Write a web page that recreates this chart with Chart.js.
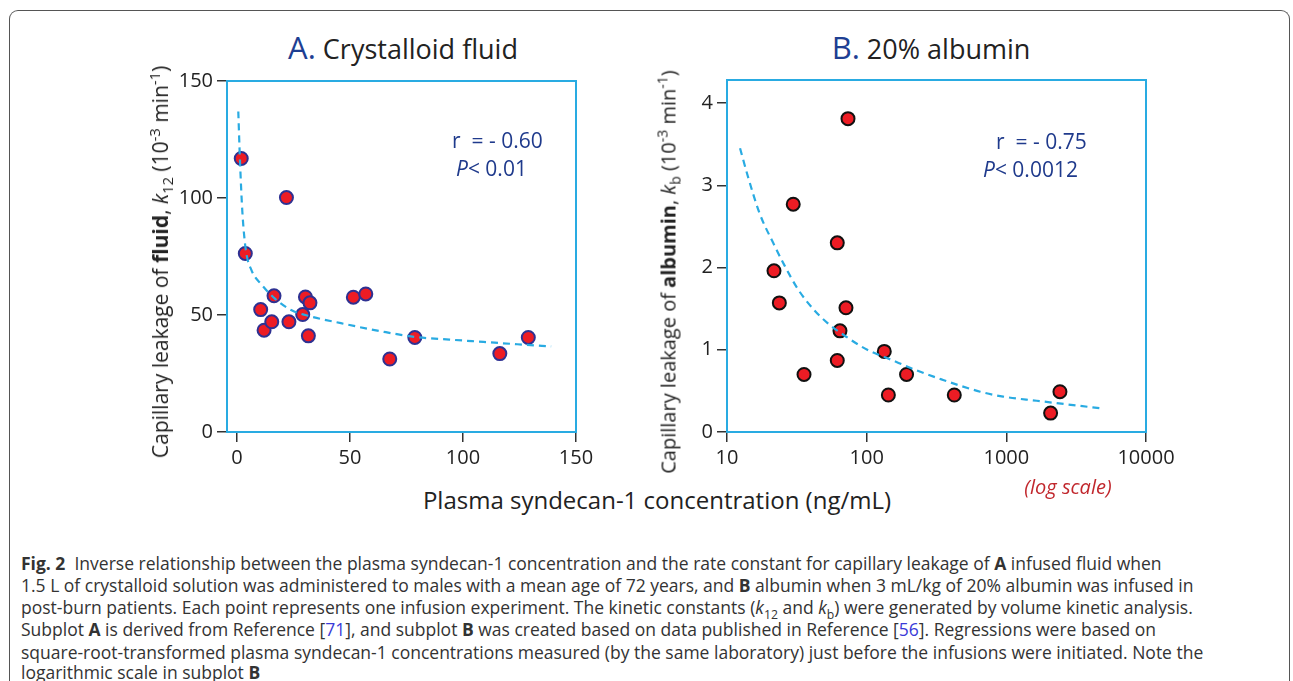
<!DOCTYPE html>
<html>
<head>
<meta charset="utf-8">
<script src="https://cdn.jsdelivr.net/npm/chart.js@4/dist/chart.umd.min.js"></script>
<style>
  body { margin: 0; background: #fff; }
  #page { position: relative; width: 1293px; height: 681px; overflow: hidden; font-family: "Open Sans", sans-serif; color: #222; }
  #frame { position: absolute; left: 9px; top: 10px; width: 1279px; height: 720px; border: 1.5px solid #555; border-bottom: none; border-radius: 9px 9px 0 0; }
  canvas { position: absolute; }
  .title { position: absolute; top: 26px; white-space: nowrap; transform: translateX(-50%); font-size: 27px; }
  .title .lt { color: #1e3f93; font-size: 31px; }
  .ytitle { position: absolute; white-space: nowrap; font-size: 21px; transform: translate(-50%, -50%) rotate(-90deg); }
  .ytitle sub, .ytitle sup, .cap sub { font-size: 70%; line-height: 0; }
  .note { position: absolute; white-space: nowrap; color: #1f3a8c; font-size: 21px; }
  #xtitle { position: absolute; left: 657px; top: 483px; transform: translateX(-50%); white-space: nowrap; font-size: 24px; }
  #logscale { position: absolute; left: 1068px; top: 473px; transform: translateX(-50%); white-space: nowrap; color: #c1272d; font-style: italic; font-size: 20px; }
  .cap { position: absolute; left: 21px; white-space: nowrap; font-size: 17.5px; line-height: 22px; color: #333; }
  .cap a { color: #3a3ad8; text-decoration: none; }
</style>
</head>
<body>
<div id="page">
  <div id="frame"></div>
  <div class="title" style="left:403px"><span class="lt">A.</span> Crystalloid fluid</div>
  <div class="title" style="left:931px"><span class="lt">B.</span> 20% albumin</div>

  <canvas id="chartA" width="440" height="420" style="left:160px; top:60px"></canvas>
  <canvas id="chartB" width="500" height="420" style="left:680px; top:60px"></canvas>

  <div class="ytitle" style="left:160px; top:262px">Capillary leakage of <b>fluid</b>, <i>k</i><sub>12</sub> (10<sup>-3</sup> min<sup>-1</sup>)</div>
  <div class="ytitle" style="left:668px; top:272px; font-size:20px">Capillary leakage of <b>albumin</b>, <i>k</i><sub>b</sub> (10<sup>-3</sup> min<sup>-1</sup>)</div>

  <div class="note" style="left:452px; top:126px">r &nbsp;= - 0.60</div>
  <div class="note" style="left:456px; top:154px"><i>P</i>&lt; 0.01</div>
  <div class="note" style="left:996px; top:127px">r &nbsp;= - 0.75</div>
  <div class="note" style="left:983px; top:155px"><i>P</i>&lt; 0.0012</div>

  <div id="xtitle">Plasma syndecan-1 concentration (ng/mL)</div>
  <div id="logscale">(log scale)</div>

  <div class="cap" style="top:552px"><b>Fig. 2</b>&nbsp; Inverse relationship between the plasma syndecan-1 concentration and the rate constant for capillary leakage of <b>A</b> infused fluid when</div>
  <div class="cap" style="top:574px">1.5 L of crystalloid solution was administered to males with a mean age of 72 years, and <b>B</b> albumin when 3 mL/kg of 20% albumin was infused in</div>
  <div class="cap" style="top:596.2px">post-burn patients. Each point represents one infusion experiment. The kinetic constants (<i>k</i><sub>12</sub> and <i>k</i><sub>b</sub>) were generated by volume kinetic analysis.</div>
  <div class="cap" style="top:618.4px">Subplot <b>A</b> is derived from Reference [<a>71</a>], and subplot <b>B</b> was created based on data published in Reference [<a>56</a>]. Regressions were based on</div>
  <div class="cap" style="top:640.6px">square-root-transformed plasma syndecan-1 concentrations measured (by the same laboratory) just before the infusions were initiated. Note the</div>
  <div class="cap" style="top:660.5px">logarithmic scale in subplot <b>B</b></div>
</div>

<script>
// panel A: crystalloid fluid
var syndecanA = [1.9, 21.9, 3.7, 16.4, 10.5, 12.0, 15.4, 23.0, 30.3, 32.3, 29.1, 31.6, 51.5, 57.0, 67.6, 78.7, 116.3, 128.9];
var leakA = [116.9, 100.2, 76.3, 58.2, 52.3, 43.5, 47.1, 47.1, 57.7, 55.2, 50.2, 41.1, 57.6, 59.0, 31.2, 40.4, 33.5, 40.4];
var fitXA = [0.6, 1.3, 2.4, 3.9, 6.5, 10.9, 16.8, 24.2, 33, 46, 65, 79, 94, 109, 124, 139];
var fitYA = [137, 117, 94, 78, 69, 63, 57, 52, 49.3, 46.5, 42.8, 40.6, 39.5, 38.5, 37.5, 36.6];
var xTicksA = [0, 50, 100, 150];
var yTicksA = [0, 50, 100, 150];

// panel B: 20% albumin (log x)
var syndecanB = [73.5, 29.8, 61.6, 21.7, 23.7, 71.1, 64.4, 61.6, 35.6, 133.7, 143, 193, 424, 2420, 2075];
var leakB = [3.81, 2.77, 2.30, 1.96, 1.57, 1.51, 1.23, 0.87, 0.70, 0.98, 0.45, 0.70, 0.45, 0.49, 0.23];
var fitXB = [12.4, 14.1, 17.1, 21.4, 25.9, 32.4, 41.7, 52, 72.6, 101, 149, 220, 343, 650, 950, 1650, 2600, 4650];
var fitYB = [3.45, 3.11, 2.66, 2.30, 2.02, 1.73, 1.49, 1.33, 1.15, 1.00, 0.88, 0.76, 0.64, 0.49, 0.43, 0.38, 0.34, 0.29];
var xTicksB = [10, 100, 1000, 10000];
var yTicksB = [0, 1, 2, 3, 4];

function pairs(xs, ys) {
    return xs.map(function(x, i) { return { x: x, y: ys[i] }; });
}

var boxPlugin = {
    id: 'box',
    beforeDatasetsDraw: function(chart) {
        var a = chart.chartArea, ctx = chart.ctx;
        ctx.save();
        ctx.strokeStyle = '#29abe2';
        ctx.lineWidth = 2;
        ctx.strokeRect(a.left, a.top, a.right - a.left, a.bottom - a.top);
        ctx.restore();
    }
};

function axis(type, min, max, ticks, fit) {
    return {
        type: type, min: min, max: max,
        afterBuildTicks: function(s) { s.ticks = ticks.map(function(v) { return { value: v }; }); },
        afterFit: fit,
        border: { display: false },
        grid: { drawOnChartArea: false, drawTicks: true, tickLength: 10, color: '#333', lineWidth: 1.5 },
        ticks: {
            color: '#222', padding: 4,
            font: { family: 'Open Sans', size: 20 },
            callback: function(v) { return String(v); }
        }
    };
}

function makeChart(id, points, fit, border, xs, ys, pad) {
    return new Chart(document.getElementById(id), {
        type: 'scatter',
        data: {
            datasets: [{
                data: fit, showLine: true, order: 0,
                borderColor: '#29abe2', borderWidth: 2.2, borderDash: [7, 5],
                pointRadius: 0, cubicInterpolationMode: 'monotone'
            }, {
                data: points, order: 1,
                pointRadius: 6.5, pointBackgroundColor: '#ed1c24',
                pointBorderColor: border, pointBorderWidth: 2
            }]
        },
        options: {
            responsive: false, animation: false,
            layout: { padding: pad },
            plugins: { legend: { display: false }, tooltip: { enabled: false } },
            scales: { x: xs, y: ys }
        },
        plugins: [boxPlugin]
    });
}

makeChart('chartA', pairs(syndecanA, leakA), pairs(fitXA, fitYA), '#2e3192',
    axis('linear', -4.4, 150, xTicksA, function(s) { s.height = 48; }),
    axis('linear', 0, 150, yTicksA, function(s) { s.width = 67; }),
    { left: 0, top: 21, right: 24, bottom: 0 });

makeChart('chartB', pairs(syndecanB, leakB), pairs(fitXB, fitYB), '#111',
    axis('logarithmic', 10, 10000, xTicksB, function(s) { s.height = 48; }),
    axis('linear', 0, 4.28, yTicksB, function(s) { s.width = 47; }),
    { left: 0, top: 20, right: 34, bottom: 0 });
</script>
</body>
</html>
